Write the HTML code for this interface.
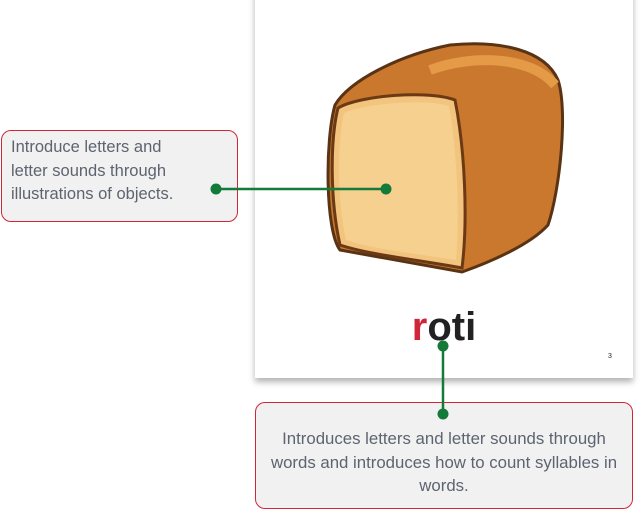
<!DOCTYPE html>
<html><head><style>
body{margin:0;width:642px;height:512px;background:#fff;position:relative;overflow:hidden;font-family:"Liberation Sans",sans-serif}
.card{position:absolute;left:255px;top:-10px;width:378px;height:388px;background:#fff;box-shadow:0 4px 6px rgba(0,0,0,.3)}
.box{position:absolute;background:#f1f1f1;border:1px solid #d0263a;border-radius:10px;color:#5d6470;font-size:16.5px;line-height:23.5px}
</style></head><body>
<div class="card"></div>
<svg style="position:absolute;left:0;top:0" width="642" height="512">
<path d="M335,105 C350,80 400,55 450,45 C500,40 545,50 558,80 C568,110 560,190 548,225 C530,245 490,262 462,272 L340,250 C325,230 325,140 335,105Z" fill="#c9782e" stroke="#5a3314" stroke-width="3"/>
<path d="M430,70 C470,55 530,55 555,85" fill="none" stroke="#e59a48" stroke-width="10"/>
<path d="M338,108 C360,95 430,90 455,100 C465,150 468,220 462,268 C420,260 370,255 340,245 C330,200 330,140 338,108Z" fill="#f2c47d" stroke="#6b3a15" stroke-width="3"/>
<path d="M344,113 C370,102 430,99 449,106 C457,150 460,215 456,260 C420,254 375,250 346,240 C337,200 337,145 344,113Z" fill="#f5d08f"/>
<text x="444" y="340" text-anchor="middle" font-family="Liberation Sans,sans-serif" font-weight="bold" font-size="40"><tspan fill="#d0263a">r</tspan><tspan fill="#222">oti</tspan></text>
<text x="608" y="358" font-size="7" fill="#222">3</text>
</svg>
<div class="box" style="left:1px;top:130px;width:226px;height:81px;padding:5px 0 4px 9px">Introduce letters and<br>letter sounds through<br>illustrations of objects.</div>
<div class="box" style="left:255px;top:402px;width:376px;height:105px;text-align:center;padding-top:0">
<div style="padding-top:24px;font-size:16.8px">Introduces letters and letter sounds through<br>words and introduces how to count syllables in<br>words.</div></div>
<svg style="position:absolute;left:0;top:0" width="642" height="512">
<line x1="216" y1="189" x2="386" y2="189" stroke="#137a3a" stroke-width="2.5"/>
<line x1="443" y1="346" x2="443" y2="414" stroke="#137a3a" stroke-width="2.5"/>
<circle cx="216" cy="189" r="5.5" fill="#137a3a"/><circle cx="386" cy="189" r="5.5" fill="#137a3a"/>
<circle cx="443" cy="346" r="5.5" fill="#137a3a"/><circle cx="443" cy="414" r="5.5" fill="#137a3a"/>
</svg>
</body></html>
